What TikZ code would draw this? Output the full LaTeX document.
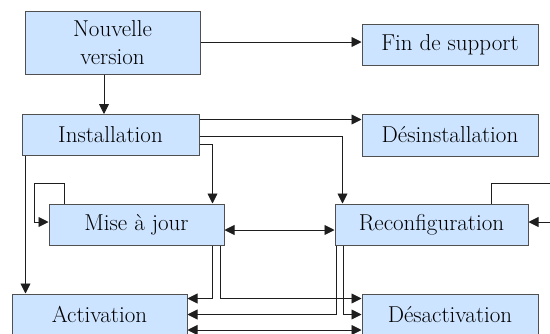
\documentclass[tikz,border=0pt]{standalone}
\usepackage{fontspec}
\usetikzlibrary{arrows.meta}
\definecolor{boxfill}{RGB}{204,228,255}
\definecolor{boxline}{RGB}{80,80,80}
\definecolor{linec}{RGB}{30,30,30}
\tikzset{
  box/.style={draw=boxline, line width=1pt, fill=boxfill, inner sep=0pt,
    font=\fontsize{23}{28}\selectfont, align=center},
  arr/.style={draw=linec, line width=0.9pt, -{Triangle[length=10pt,width=10pt]}},
  darr/.style={draw=linec, line width=0.9pt, {Triangle[length=10pt,width=10pt]}-{Triangle[length=10pt,width=10pt]}},
  ln/.style={draw=linec, line width=0.9pt}
}
\begin{document}
\begin{tikzpicture}[x=1pt,y=-1pt]
\useasboundingbox (0,0) rectangle (550,333);
\clip (0,0) rectangle (550,333);
\node[box, minimum width=175pt, minimum height=63pt] (nv) at (112.5,42.5) {Nouvelle\\version};
\node[box, minimum width=176pt, minimum height=41pt] (fin) at (450,44.5) {Fin de support};
\node[box, minimum width=177pt, minimum height=41pt] (inst) at (110.5,135) {Installation};
\node[box, minimum width=176pt, minimum height=42pt] (desinst) at (450,135) {Désinstallation};
\node[box, minimum width=175pt, minimum height=41pt] (mise) at (136.5,224.5) {Mise à jour};
\node[box, minimum width=193pt, minimum height=41pt] (reconf) at (431.5,224.5) {Reconfiguration};
\node[box, minimum width=175pt, minimum height=41pt] (act) at (99.5,314.5) {Activation};
\node[box, minimum width=176pt, minimum height=41pt] (desact) at (450,314.5) {Désactivation};

\coordinate (loopA) at (34,183);
\coordinate (edgeA) at (560,183);
\coordinate (edgeB) at (560,222);

% Nouvelle version
\draw[arr] ([yshift=0.5pt]nv.east) -- ([yshift=0.5pt]nv.east -| fin.west);
\draw[arr] ([xshift=-8.5pt]nv.south) -- ([xshift=-8.5pt]nv.south |- inst.north);
% Installation
\draw[arr] ([yshift=-5.5pt]inst.north east) -- ([yshift=-5.5pt]inst.north east -| desinst.west);
\draw[arr] ([yshift=-1pt]inst.east) -| ([xshift=8pt]reconf.north west);
\draw[arr] ([yshift=-9pt]inst.east) -| ([xshift=-12pt]mise.north east);
\draw[arr] ([xshift=4pt]inst.south west) -- ([xshift=4pt]inst.south west |- act.north);
% Mise a jour
\draw[arr] ([xshift=16pt]mise.north west) |- (loopA) |- ([yshift=2.5pt]mise.west);
\draw[darr] ([yshift=-5.5pt]mise.east) -- ([yshift=-5.5pt]mise.east -| reconf.west);
\draw[arr] ([xshift=-12pt]mise.south east) |- ([yshift=-5pt]act.north east);
\draw[arr] ([xshift=-4pt]mise.south east) |- ([yshift=-5pt]desact.north west);
% Reconfiguration
\draw[ln] ([xshift=-37pt]reconf.north east) |- (edgeA);
\draw[arr] (edgeB) -- (edgeB -| reconf.east);
\draw[arr] ([xshift=2pt]reconf.south west) |- (act.east);
\draw[arr] ([xshift=9pt]reconf.south west) |- (desact.west);
% Activation - Desactivation
\draw[darr] ([yshift=-15.5pt]act.east) -- ([yshift=-15.5pt]act.east -| desact.west);
\end{tikzpicture}
\end{document}
